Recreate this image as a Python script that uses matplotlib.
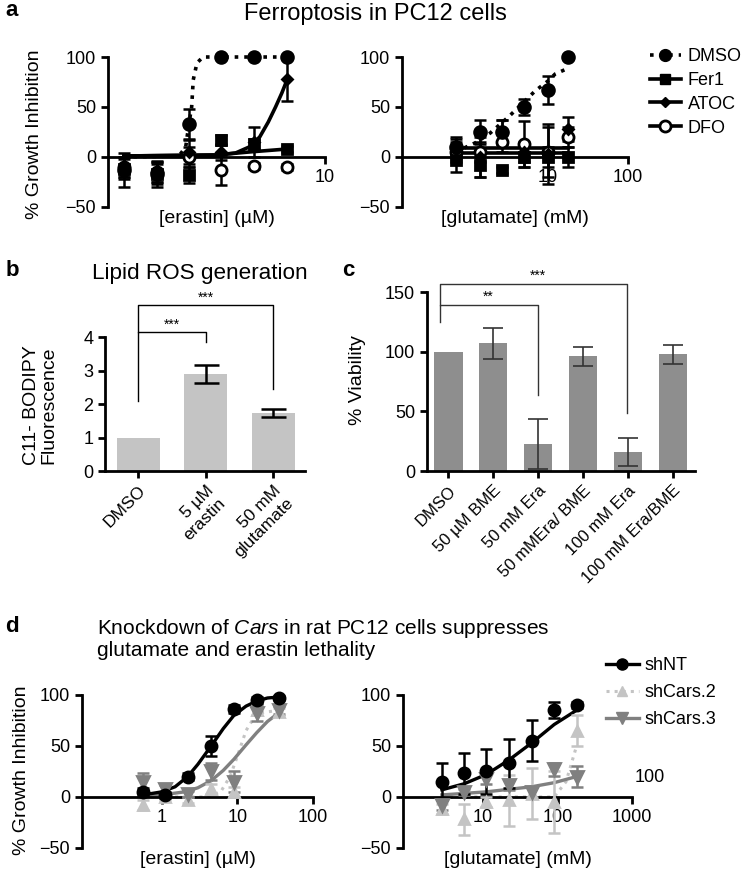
import matplotlib
matplotlib.use('Agg')
import matplotlib.pyplot as plt
from matplotlib.lines import Line2D
from matplotlib.ticker import NullLocator

plt.rcParams.update({'font.family': ['Liberation Sans', 'DejaVu Sans'], 'mathtext.fontset': 'custom',
                     'mathtext.rm': 'Liberation Sans', 'mathtext.it': 'Liberation Sans:italic'})

# ---- panel a, erastin ----
era_x = [0.14, 0.28, 0.56, 1.1, 2.2, 4.5]
era_dmso = [-13, -17, 33, 100, 100, 100]
era_dmso_err = [17, 13, 15, 0, 0, 0]
era_fer1 = [-12, -17, -18, 17, 13, 8]
era_fer1_err = [10, 10, 8, 5, 5, 3]
era_atoc = [-10, -15, 5, 5, 15, 78]
era_atoc_err = [10, 10, 12, 8, 15, 22]
era_dfo = [-10, -15, 0, -13, -9, -10]
era_dfo_err = [10, 10, 10, 15, 3, 3]
era_dmso_fit_x = [0.14, 0.45, 0.52, 0.56, 0.59, 0.61, 0.66, 0.75, 4.5]
era_dmso_fit_y = [0, 1, 10, 35, 50, 77, 94, 100, 100]
era_atoc_fit_x = [0.14, 1.0, 1.5, 2.0, 2.5, 3.0, 3.5, 4.0, 4.5]
era_atoc_fit_y = [1, 2, 4, 10, 20, 35, 50, 64, 78]
era_fer1_fit_x = [0.14, 1.0, 2.0, 4.5]
era_fer1_fit_y = [1, 2, 5, 8]

# ---- panel a, glutamate ----
glu_x = [0.7, 1.4, 2.7, 5, 10, 18]
glu_dmso = [10, 25, 25, 50, 67, 100]
glu_dmso_err = [10, 12, 12, 8, 14, 0]
glu_fer1 = [-3, -8, -13, 0, 0, 0]
glu_fer1_err = [12, 12, 3, 10, 10, 10]
glu_atoc = [8, 0, 25, 5, 3, 28]
glu_atoc_err = [10, 20, 12, 10, 30, 12]
glu_dfo = [5, 5, 15, 13, 5, 20]
glu_dfo_err = [10, 10, 10, 23, 25, 10]
glu_dmso_fit_x = [0.7, 1.3, 1.9, 3.3, 5.0, 6.9, 10, 12.3, 17]
glu_dmso_fit_y = [5, 15, 24, 41, 55, 66, 76, 83, 88]
glu_flat_x = [0.7, 18]
glu_atoc_fit_y = [4, 4]
glu_dfo_fit_y = [9, 9]

# ---- panel b ----
b_labels = ['DMSO', '5 µM\nerastin', '50 mM\nglutamate']
b_values = [1.0, 2.9, 1.72]
b_err = [0, 0.26, 0.12]

# ---- panel c ----
c_labels = ['DMSO', '50 µM BME', '50 mM Era', '50 mMEra/ BME', '100 mM Era', '100 mM Era/BME']
c_values = [100, 107, 23, 96, 16, 98]
c_err = [0, 13, 21, 8, 12, 8]

# ---- panel d, erastin ----
d_era_x = [0.56, 1.1, 2.2, 4.5, 9, 18, 36]
d_era_nt = [5, 2, 20, 50, 86, 95, 97]
d_era_nt_err = [4, 3, 3, 10, 4, 3, 2]
d_era_c2 = [-8, 0, -3, 8, 5, 85, 83]
d_era_c2_err = [5, 3, 3, 5, 5, 5, 4]
d_era_c3 = [15, 8, 3, 25, 15, 82, 85]
d_era_c3_err = [8, 4, 3, 8, 10, 8, 4]
d_era_nt_fit_x = [0.56, 1, 1.5, 2.2, 3, 4.5, 6.5, 9, 13, 18, 25, 36]
d_era_nt_fit_y = [2, 5, 10, 20, 32, 50, 67, 80, 89, 94, 97, 98]
d_era_c3_fit_x = [0.56, 1, 2, 3, 4.5, 6.5, 9, 13, 18, 25, 36]
d_era_c3_fit_y = [1, 2, 5, 9, 16, 26, 37, 51, 63, 74, 83]
d_era_c2_fit_x = [0.56, 4, 6, 8, 10, 13, 18, 36]
d_era_c2_fit_y = [0, 0, 5, 20, 40, 65, 82, 85]

# ---- panel d, glutamate ----
d_glu_x = [2.8, 5.6, 11, 22, 45, 90, 180]
d_glu_nt = [15, 23, 25, 33, 55, 85, 90]
d_glu_nt_err = [18, 20, 22, 24, 20, 8, 3]
d_glu_c2 = [-12, -22, -5, -3, 3, -5, 65]
d_glu_c2_err = [5, 15, 5, 25, 25, 30, 15]
d_glu_c3 = [-8, 5, 18, 12, 5, 27, 20]
d_glu_c3_err = [5, 3, 5, 5, 5, 6, 10]
d_glu_nt_fit_x = [2.8, 5.6, 11, 22, 45, 90, 180]
d_glu_nt_fit_y = [7, 13, 22, 36, 53, 71, 85]
d_glu_c3_fit_x = [2.8, 11, 45, 90, 180]
d_glu_c3_fit_y = [2, 5, 10, 14, 20]
d_glu_c2_fit_x = [2.8, 90, 130, 180]
d_glu_c2_fit_y = [0, 0, 15, 50]

LW = 2.0
LIGHT = '#c4c4c4'
MID = '#808080'
TICK = 13
LAB = 14

fig = plt.figure(figsize=(7.47, 8.77), dpi=100)


def px(x, y):
    return x / 747, 1 - y / 877


def dr_axes(rect, xlim, xticks, xlabel):
    ax = fig.add_axes(rect)
    ax.set_xscale('log')
    ax.set_xlim(xlim)
    ax.set_ylim(-50, 100)
    for s in ['top', 'right']:
        ax.spines[s].set_visible(False)
    ax.spines['bottom'].set_position(('data', 0))
    for s in ['left', 'bottom']:
        ax.spines[s].set_linewidth(LW)
    ax.set_yticks([-50, 0, 50, 100])
    ax.set_xticks(xticks, labels=[str(t) for t in xticks])
    ax.xaxis.set_minor_locator(NullLocator())
    ax.tick_params(width=LW, length=5, labelsize=TICK)
    ax.text(0.5, -0.075, xlabel, transform=ax.transAxes, ha='center', va='center', fontsize=LAB)
    return ax


def pts(ax, x, y, err, marker, color, ms, mfc=None, cap=4):
    ax.errorbar(x, y, yerr=err, fmt='none', ecolor=color, elinewidth=1.8, capsize=cap,
                capthick=1.8, clip_on=False, zorder=3)
    ax.plot(x, y, marker, color=color, ms=ms, mfc=mfc or color, mew=2, linestyle='none',
            clip_on=False, zorder=4)


# ===== panel a =====
ax = dr_axes([0.1446, 0.764, 0.2905, 0.171], (0.1, 10), [10], '[erastin] (µM)')
ax.plot(era_dmso_fit_x, era_dmso_fit_y, ':', color='k', lw=2.6, clip_on=False)
ax.plot(era_atoc_fit_x, era_atoc_fit_y, '-', color='k', lw=2.6, clip_on=False)
ax.plot(era_fer1_fit_x, era_fer1_fit_y, '-', color='k', lw=2.6, clip_on=False)
pts(ax, era_x, era_dfo, era_dfo_err, 'o', 'k', 8, 'white')
pts(ax, era_x, era_fer1, era_fer1_err, 's', 'k', 7)
pts(ax, era_x, era_atoc, era_atoc_err, 'D', 'k', 5)
pts(ax, era_x, era_dmso, era_dmso_err, 'o', 'k', 8.5)

ax = dr_axes([0.5382, 0.764, 0.3025, 0.171], (0.15, 100), [10, 100], '[glutamate] (mM)')
ax.plot(glu_dmso_fit_x, glu_dmso_fit_y, ':', color='k', lw=2.6, clip_on=False)
ax.plot(glu_flat_x, glu_atoc_fit_y, '-', color='k', lw=2.6)
ax.plot(glu_flat_x, glu_dfo_fit_y, '-', color='k', lw=2.6)
pts(ax, glu_x, glu_dfo, glu_dfo_err, 'o', 'k', 8, 'white')
pts(ax, glu_x, glu_fer1, glu_fer1_err, 's', 'k', 7)
pts(ax, glu_x, glu_atoc, glu_atoc_err, 'D', 'k', 5)
pts(ax, glu_x, glu_dmso, glu_dmso_err, 'o', 'k', 8.5)

handles = [Line2D([], [], ls=':', color='k', lw=2.6, marker='o', ms=8.5),
           Line2D([], [], ls='-', color='k', lw=2.6, marker='s', ms=7),
           Line2D([], [], ls='-', color='k', lw=2.6, marker='D', ms=5),
           Line2D([], [], ls='-', color='k', lw=2.6, marker='o', ms=8, mfc='white', mew=2)]
fig.legend(handles, ['DMSO', 'Fer1', 'ATOC', 'DFO'], loc='upper left', bbox_to_anchor=px(650, 48),
           frameon=False, fontsize=13, handlelength=1.7, handletextpad=0.4, labelspacing=0.38,
           borderpad=0, borderaxespad=0)

fig.text(*px(375, 14), 'Ferroptosis in PC12 cells', ha='center', va='center', fontsize=17)
fig.text(*px(35, 134), '% Growth Inhibition', rotation=90, ha='center', va='center', fontsize=LAB)

# ===== panel b =====
ax = fig.add_axes([0.1406, 0.4629, 0.2677, 0.1528])
bx = list(range(len(b_values)))
ax.bar(bx, b_values, width=0.64, color=LIGHT)
ax.errorbar(bx[1:], b_values[1:], yerr=b_err[1:], fmt='none', ecolor='k', elinewidth=1.8,
            capsize=9, capthick=1.8)
ax.set_xlim(-0.49, 2.47)
ax.set_ylim(0, 4)
ax.set_yticks([0, 1, 2, 3, 4])
ax.set_xticks(bx, labels=b_labels, rotation=45, ha='right', rotation_mode='anchor')
for s in ['top', 'right']:
    ax.spines[s].set_visible(False)
for s in ['left', 'bottom']:
    ax.spines[s].set_linewidth(LW)
ax.tick_params(width=LW, length=5, labelsize=TICK)
ax.tick_params(axis='x', labelsize=12.5)
ax.plot([0, 0, 1, 1], [2.1, 4.15, 4.15, 3.85], color='k', lw=1, clip_on=False)
ax.plot([0, 0, 2, 2], [4.15, 4.95, 4.95, 2.45], color='k', lw=1, clip_on=False)
ax.text(0.5, 4.17, '***', ha='center', va='bottom', fontsize=10)
ax.text(1.0, 4.97, '***', ha='center', va='bottom', fontsize=10)
fig.text(*px(200, 274), 'Lipid ROS generation', ha='center', va='center', fontsize=16.2)
fig.text(*px(40, 405), 'C11- BODIPY\nFluorescence', rotation=90, ha='center', va='center',
         fontsize=LAB, linespacing=1.05)

# ===== panel c =====
ax = fig.add_axes([0.5716, 0.4629, 0.3588, 0.2041])
cx = list(range(len(c_values)))
ax.bar(cx, c_values, width=0.64, color='#8e8e8e')
ax.errorbar(cx[1:], c_values[1:], yerr=c_err[1:], fmt='none', ecolor='#333333', elinewidth=1.2,
            capsize=7, capthick=1.2)
ax.set_xlim(-0.47, 5.49)
ax.set_ylim(0, 150)
ax.set_yticks([0, 50, 100, 150])
ax.set_xticks(cx, labels=c_labels, rotation=45, ha='right', rotation_mode='anchor')
for s in ['top', 'right']:
    ax.spines[s].set_visible(False)
for s in ['left', 'bottom']:
    ax.spines[s].set_linewidth(LW)
ax.tick_params(width=LW, length=5, labelsize=TICK)
ax.tick_params(axis='x', labelsize=12)
ax.plot([-0.18, -0.18, 2, 2], [125, 139, 139, 64], color='#333333', lw=1, clip_on=False)
ax.plot([-0.18, -0.18, 3.98, 3.98], [139, 157, 157, 49], color='#333333', lw=1, clip_on=False)
ax.text(0.9, 140, '**', ha='center', va='bottom', fontsize=10)
ax.text(2.0, 158, '***', ha='center', va='bottom', fontsize=10)
fig.text(*px(358, 380), '% Viability', rotation=90, ha='center', va='center', fontsize=LAB)

# ===== panel d =====
ax = dr_axes([0.1098, 0.0331, 0.3092, 0.1745], (0.088, 100), [1, 10, 100], '[erastin] (µM)')
ax.plot(d_era_c2_fit_x, d_era_c2_fit_y, ':', color=LIGHT, lw=2.2)
ax.plot(d_era_c3_fit_x, d_era_c3_fit_y, '-', color=MID, lw=2.4)
ax.plot(d_era_nt_fit_x, d_era_nt_fit_y, '-', color='k', lw=2.4)
pts(ax, d_era_x, d_era_c2, d_era_c2_err, '^', LIGHT, 7.5)
pts(ax, d_era_x, d_era_c3, d_era_c3_err, 'v', MID, 8)
pts(ax, d_era_x, d_era_nt, d_era_nt_err, 'o', 'k', 8)

ax = dr_axes([0.5395, 0.0331, 0.3066, 0.1745], (0.84, 1000), [10, 100, 1000], '[glutamate] (mM)')
ax.plot(d_glu_c2_fit_x, d_glu_c2_fit_y, ':', color=LIGHT, lw=2.2)
ax.plot(d_glu_c3_fit_x, d_glu_c3_fit_y, '-', color=MID, lw=2.4)
ax.plot(d_glu_nt_fit_x, d_glu_nt_fit_y, '-', color='k', lw=2.4)
pts(ax, d_glu_x, d_glu_c2, d_glu_c2_err, '^', LIGHT, 7.5)
pts(ax, d_glu_x, d_glu_c3, d_glu_c3_err, 'v', MID, 8)
pts(ax, d_glu_x, d_glu_nt, d_glu_nt_err, 'o', 'k', 8)
fig.text(*px(650, 777), '100', ha='center', va='center', fontsize=TICK)

handles = [Line2D([], [], ls='-', color='k', lw=2.4, marker='o', ms=8),
           Line2D([], [], ls=':', color=LIGHT, lw=2.2, marker='^', ms=7.5),
           Line2D([], [], ls='-', color=MID, lw=2.4, marker='v', ms=8)]
fig.legend(handles, ['shNT', 'shCars.2', 'shCars.3'], loc='upper left', bbox_to_anchor=px(606, 657),
           frameon=False, fontsize=13, handlelength=1.8, handletextpad=0.35, labelspacing=0.55,
           borderpad=0, borderaxespad=0)

fig.text(*px(97, 634), r'Knockdown of $\it{Cars}$ in rat PC12 cells suppresses', ha='left',
         va='baseline', fontsize=15)
fig.text(*px(97, 656), 'glutamate and erastin lethality', ha='left', va='baseline', fontsize=15)
fig.text(*px(22, 770), '% Growth Inhibition', rotation=90, ha='center', va='center', fontsize=LAB)

for lab, (x, y) in zip('abcd', [(12, 10), (12, 270), (348, 270), (12, 627)]):
    fig.text(*px(x, y), lab, ha='center', va='center', fontsize=16, fontweight='bold')

fig.savefig('out.png', dpi=100, facecolor='white')
